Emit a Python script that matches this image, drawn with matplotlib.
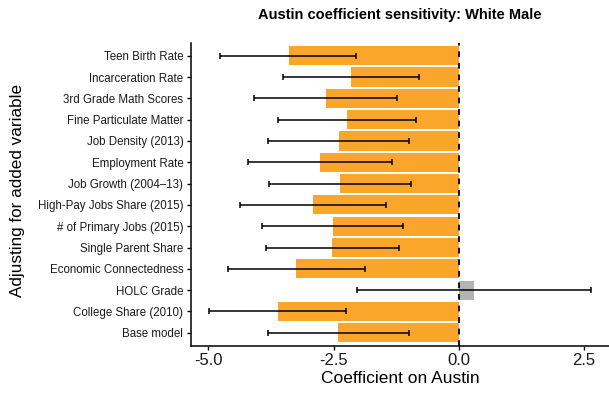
import matplotlib
matplotlib.use("Agg")
import matplotlib.pyplot as plt
import numpy as np

plt.rcParams["font.family"] = ["Liberation Sans", "DejaVu Sans"]

# rows listed top to bottom as in the chart
variables = [
    "Teen Birth Rate",
    "Incarceration Rate",
    "3rd Grade Math Scores",
    "Fine Particulate Matter",
    "Job Density (2013)",
    "Employment Rate",
    "Job Growth (2004\u201313)",
    "High-Pay Jobs Share (2015)",
    "# of Primary Jobs (2015)",
    "Single Parent Share",
    "Economic Connectedness",
    "HOLC Grade",
    "College Share (2010)",
    "Base model",
]
coef = [-3.40, -2.15, -2.66, -2.24, -2.40, -2.77, -2.37,
        -2.91, -2.52, -2.53, -3.25, 0.31, -3.62, -2.41]
ci_low = [-4.76, -3.52, -4.09, -3.62, -3.81, -4.21, -3.79,
          -4.37, -3.93, -3.86, -4.61, -2.03, -4.98, -3.82]
ci_high = [-2.06, -0.79, -1.24, -0.85, -0.99, -1.33, -0.96,
           -1.45, -1.11, -1.19, -1.88, 2.64, -2.25, -1.00]
significant = [True] * 11 + [False] + [True] * 2

ORANGE = "#F9A62A"
GREY = "#B3B3B3"

fig = plt.figure(figsize=(6.09, 3.97), dpi=100)
ax = fig.add_axes([191 / 609, 1 - 345.5 / 397, 1 - 191 / 609, (345.5 - 43) / 397])

n = len(variables)
ypos = np.arange(n)[::-1]
coef = np.array(coef)
lo = np.array(ci_low)
hi = np.array(ci_high)
colors = [ORANGE if s else GREY for s in significant]

ax.barh(ypos, coef, height=0.9, color=colors, edgecolor="none", zorder=1)
ax.errorbar(coef, ypos, xerr=[coef - lo, hi - coef], fmt="none",
            ecolor="black", elinewidth=1.1, capsize=2.2, capthick=1.1, zorder=3)
ax.axvline(0, color="black", linestyle=(0, (3.2, 3.2)), linewidth=1.3, zorder=2)

ax.set_xlim(-5.35, 3.01)
ax.set_ylim(-0.6, n - 1 + 0.6)
ax.set_yticks(ypos)
ax.set_yticklabels(variables, fontsize=8.3, color="#1a1a1a")
ax.set_xticks([-5.0, -2.5, 0.0, 2.5])
ax.set_xticklabels(["-5.0", "-2.5", "0.0", "2.5"], fontsize=12, color="#1a1a1a")
ax.tick_params(axis="both", length=3, width=1, color="black", pad=2.5)

for side in ["top", "right"]:
    ax.spines[side].set_visible(False)
for side in ["left", "bottom"]:
    ax.spines[side].set_linewidth(1.1)

ax.set_xlabel("Coefficient on Austin", fontsize=12.5, labelpad=2)
fig.text(18 / 609, 1 - 190 / 397, "Adjusting for added variable",
         rotation=90, fontsize=12.3, ha="center", va="center")
fig.text(400 / 609, 1 - 15 / 397, "Austin coefficient sensitivity: White Male",
         fontsize=10.5, fontweight="bold", ha="center", va="center")

fig.savefig("out.png", dpi=100)
